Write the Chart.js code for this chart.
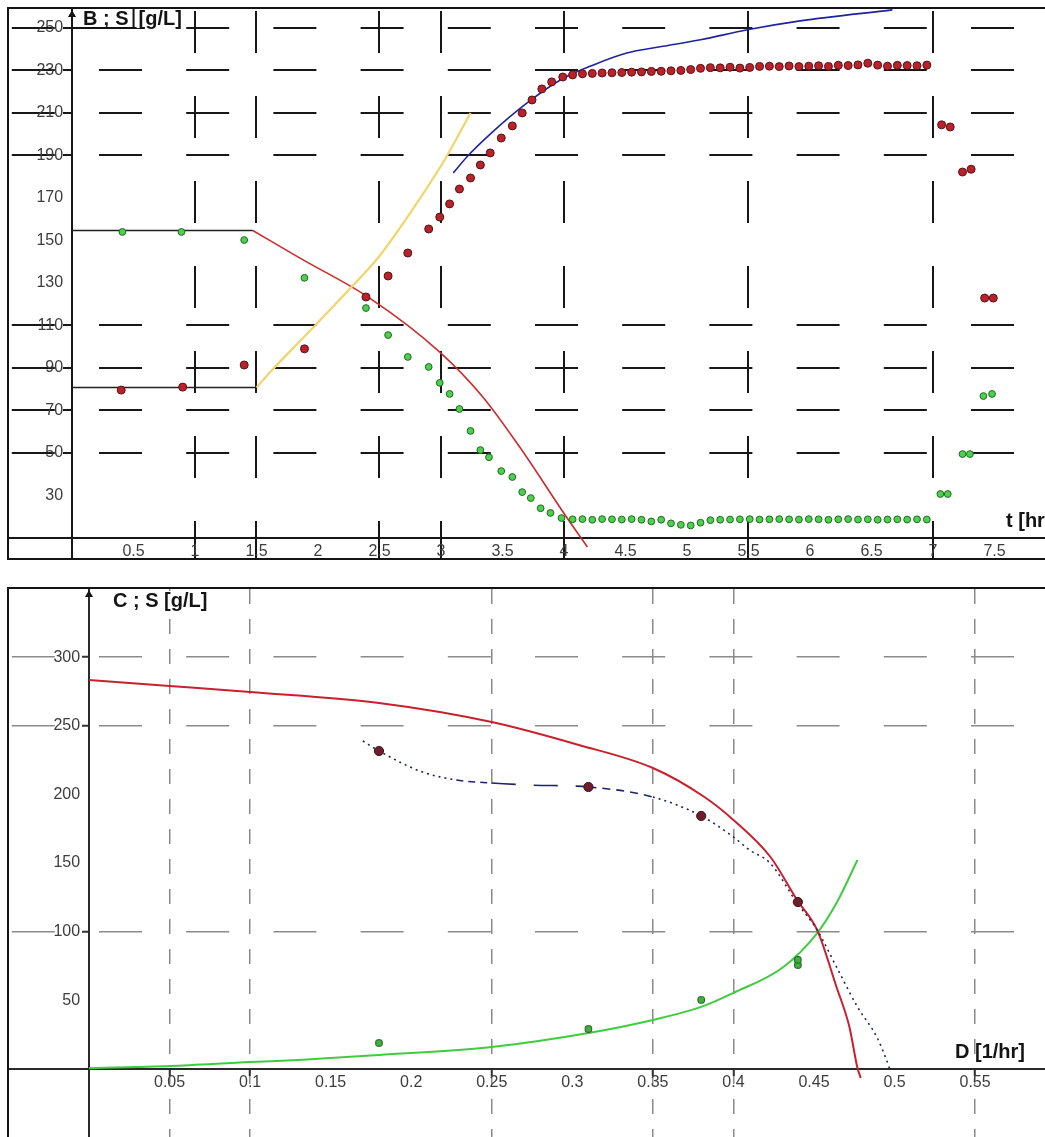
<!DOCTYPE html>
<html>
<head>
<meta charset="utf-8">
<title>Fed-batch run and chemostat steady states</title>
<script src="https://cdn.jsdelivr.net/npm/chart.js@4.4.0/dist/chart.umd.min.js"></script>
<style>
  html, body { margin: 0; padding: 0; background: #fff; width: 1045px; height: 1137px; overflow: hidden; }
  .frame { position: absolute; border: 2px solid #141414; }
  #runFrame { left: 7px; top: 7px; }
  #chemFrame { left: 7px; top: 587px; }
  canvas { display: block; }
</style>
</head>
<body>
<div class="frame" id="runFrame"><canvas id="run" width="1036" height="549"></canvas></div>
<div class="frame" id="chemFrame"><canvas id="chem" width="1036" height="550"></canvas></div>
<script>
// ---------- time course of the fed-batch run ----------
const runTimeTicks = [0.5, 1, 1.5, 2, 2.5, 3, 3.5, 4, 4.5, 5, 5.5, 6, 6.5, 7, 7.5];
const runTimeLabels = ['0.5', '1', '1.5', '2', '2.5', '3', '3.5', '4', '4.5', '5', '5.5', '6', '6.5', '7', '7.5'];
const runTimeGrid = [1, 1.5, 2.5, 3, 4, 5.5, 7];
const runConcTicks = [30, 50, 70, 90, 110, 130, 150, 170, 190, 210, 230, 250];
const runConcLabels = ['30', '50', '70', '90', '110', '130', '150', '170', '190', '210', '230', '250'];
const runConcGrid = [50, 70, 90, 110, 190, 210, 230, 250];

// measured B
const timeB = [0.40, 0.90, 1.40, 1.89, 2.39, 2.57, 2.73, 2.90, 2.99, 3.07, 3.15, 3.24, 3.32, 3.40, 3.49, 3.58, 3.66, 3.74, 3.82, 3.90, 3.99,
  4.07, 4.15, 4.23, 4.31, 4.39, 4.47, 4.55, 4.63, 4.71, 4.79, 4.87, 4.95, 5.03, 5.11, 5.19, 5.27, 5.35, 5.43, 5.51, 5.59,
  5.67, 5.75, 5.83, 5.91, 5.99, 6.07, 6.15, 6.23, 6.31, 6.39, 6.47, 6.55, 6.63, 6.71, 6.79, 6.87, 6.95,
  7.07, 7.14, 7.24, 7.31, 7.42, 7.49];
const concB = [79.6, 81.0, 91.4, 99.0, 123.4, 133.3, 144.1, 155.4, 161.0, 167.2, 174.2, 179.4, 185.5, 191.2, 198.2, 203.9, 210.0, 216.1, 221.3, 224.6, 226.9,
  227.9, 228.4, 228.6, 228.8, 228.9, 229.0, 229.2, 229.3, 229.5, 229.6, 229.8, 230.0, 230.4, 231.0, 231.3, 231.2, 231.5, 231.1, 231.4, 231.9,
  232.0, 231.8, 232.1, 231.8, 232.0, 232.2, 231.9, 232.4, 232.3, 232.6, 233.4, 232.5, 232.0, 232.4, 232.3, 232.2, 232.5,
  204.4, 203.4, 182.2, 183.5, 122.9, 122.9];

// measured S
const timeS = [0.41, 0.89, 1.40, 1.89, 2.39, 2.57, 2.73, 2.90, 2.99, 3.07, 3.15, 3.24, 3.32, 3.39, 3.49, 3.58, 3.66, 3.73, 3.81, 3.89, 3.98,
  4.07, 4.15, 4.23, 4.31, 4.39, 4.47, 4.55, 4.63, 4.71, 4.79, 4.87, 4.95, 5.03, 5.11, 5.19, 5.27, 5.35, 5.43, 5.51, 5.59,
  5.67, 5.75, 5.83, 5.91, 5.99, 6.07, 6.15, 6.23, 6.31, 6.39, 6.47, 6.55, 6.63, 6.71, 6.79, 6.87, 6.95,
  7.06, 7.12, 7.24, 7.30, 7.41, 7.48];
const concS = [154.0, 154.0, 150.2, 132.4, 118.2, 105.5, 95.2, 90.5, 83.0, 77.8, 70.7, 60.4, 51.4, 48.0, 41.5, 38.7, 31.6, 28.8, 24.0, 21.8, 19.4,
  18.8, 18.9, 18.6, 18.9, 18.8, 18.7, 18.9, 18.6, 17.8, 18.6, 16.9, 16.2, 15.9, 17.2, 18.4, 18.6, 18.7, 18.8, 18.9, 18.7,
  18.8, 18.9, 18.8, 18.7, 18.9, 18.8, 18.6, 18.8, 18.9, 18.7, 18.8, 18.6, 18.7, 18.8, 18.7, 18.8, 18.7,
  30.7, 30.7, 49.5, 49.5, 76.8, 77.8];

// initial levels before the feed starts
const feedTimeS = [0, 1.47];
const feedS = [154.7, 154.7];
const feedTimeB = [0, 1.50];
const feedB = [80.8, 80.8];

// model curves
const modelTimeS = [1.47, 1.85, 2.42, 2.99, 3.34, 3.64, 4.02, 4.19];
const modelS = [154.7, 141.8, 122.9, 97.5, 76.4, 52.8, 19.9, 5.8];
const growthTimeB = [1.50, 1.61, 1.96, 2.23, 2.49, 2.75, 3.03, 3.24];
const growthB = [80.8, 88.0, 109.0, 125.5, 142.0, 163.0, 188.0, 210.0];
const plateauTimeB = [3.10, 3.21, 3.42, 3.70, 3.97, 4.24, 4.51, 4.78, 5.11, 5.49, 5.92, 6.67];
const plateauB = [181.8, 189.3, 201.1, 214.7, 225.5, 232.6, 238.2, 241.1, 244.4, 249.1, 253.3, 258.5];

// ---------- chemostat steady states vs dilution rate ----------
const dilTicks = [0.05, 0.1, 0.15, 0.2, 0.25, 0.3, 0.35, 0.4, 0.45, 0.5, 0.55];
const dilLabels = ['0.05', '0.1', '0.15', '0.2', '0.25', '0.3', '0.35', '0.4', '0.45', '0.5', '0.55'];
const dilGrid = [0.05, 0.1, 0.25, 0.35, 0.4, 0.55];
const chemConcTicks = [50, 100, 150, 200, 250, 300];
const chemConcLabels = ['50', '100', '150', '200', '250', '300'];
const chemConcGrid = [100, 250, 300];

const steadyD = [0.18, 0.31, 0.38, 0.44];
const steadyC = [231.6, 205.4, 184.3, 121.6];
const steadyDS = [0.18, 0.31, 0.38, 0.44, 0.44];
const steadyS = [18.9, 29.1, 50.3, 75.7, 79.5];

const modelD_C = [0, 0.05, 0.10, 0.18, 0.25, 0.304, 0.35, 0.382, 0.40, 0.423, 0.4395, 0.452, 0.464, 0.472, 0.477, 0.479];
const modelC = [283.3, 279.0, 274.6, 266.6, 252.7, 236.0, 219.2, 198.1, 181.4, 154.4, 123.1, 101.2, 59.7, 30.6, 0.7, -6.6];
const modelD_S = [0, 0.03, 0.05, 0.10, 0.13, 0.18, 0.25, 0.31, 0.35, 0.38, 0.40, 0.431, 0.452, 0.464, 0.477];
const modelS_chem = [0.5, 1.5, 2.2, 5.1, 6.6, 10.2, 16.0, 26.2, 35.7, 45.2, 55.4, 74.3, 99.0, 120.9, 152.2];
const trendD = [0.17, 0.18, 0.207, 0.228, 0.25, 0.274, 0.31, 0.35, 0.38, 0.40, 0.41, 0.4227, 0.4395, 0.452, 0.464, 0.477, 0.489, 0.495, 0.497];
const trendC = [238.9, 231.6, 216.3, 210.5, 208.3, 206.8, 205.4, 198.1, 184.3, 169.0, 159.5, 150.0, 120.9, 101.2, 74.3, 45.2, 23.3, 6.6, 0];

// ---------- helpers ----------
const FONT = '"Liberation Sans", Arial, Helvetica, sans-serif';
Chart.defaults.font.family = FONT;
const pts = (xs, ys) => xs.map((x, i) => ({ x, y: ys[i] }));
const onList = (list, col) => c => (c.tick && list.includes(c.tick.value)) ? col : 'rgba(0,0,0,0)';
const fixedTicks = list => s => { s.ticks = list.map(v => ({ value: v })); };
// axes sit inside the plot, so they must not push the plot edges inwards
const noEdgePadding = s => { s.paddingLeft = 0; s.paddingRight = 0; s.paddingTop = 0; s.paddingBottom = 0; };
const GAP = '  ';

// axis arrow, axis titles
const axisDecor = {
  id: 'axisDecor',
  afterDraw(chart, args, o) {
    const { ctx, chartArea, scales: { x } } = chart;
    const ax = x.getPixelForValue(0);
    ctx.save();
    ctx.fillStyle = '#141414';
    ctx.beginPath();
    ctx.moveTo(ax, chartArea.top + 1);
    ctx.lineTo(ax - 4, chartArea.top + 8);
    ctx.lineTo(ax + 4, chartArea.top + 8);
    ctx.closePath();
    ctx.fill();

    ctx.font = 'bold 20px ' + FONT;
    ctx.textBaseline = 'middle';
    ctx.textAlign = 'left';
    const ty = chartArea.top + o.yTitleDy;
    let tx = ax + o.yTitleDx;
    o.yTitle.forEach((part, i) => {
      const w = ctx.measureText(part).width;
      ctx.fillStyle = '#fff';
      ctx.fillRect(tx - 2, ty - 10, w + 4, 19);
      ctx.fillStyle = '#141414';
      ctx.fillText(part, tx, ty);
      if (o.boxed && i === 0) {
        const bx = tx + w + 5;
        ctx.strokeStyle = '#141414';
        ctx.lineWidth = 2;
        ctx.beginPath();
        ctx.moveTo(ax, chartArea.top + 19);
        ctx.lineTo(bx, chartArea.top + 19);
        ctx.lineTo(bx, chartArea.top);
        ctx.stroke();
        tx = bx + 5;
      } else {
        tx += w + 6;
      }
    });
    ctx.fillText(o.xTitle, o.xTitleX, o.xTitleY);
    ctx.restore();
  }
};

const tickFont = { size: 16 };
const tickColor = '#3d3d3d';

// ---------- fed-batch time course ----------
new Chart(document.getElementById('run'), {
  type: 'scatter',
  data: {
    datasets: [
      { label: 'B', data: pts(timeB, concB), pointRadius: 4, pointBackgroundColor: '#b8232b', pointBorderColor: '#5c1014', pointBorderWidth: 1 },
      { label: 'S', data: pts(timeS, concS), pointRadius: 3.4, pointBackgroundColor: '#4fcf4f', pointBorderColor: '#1f6a1f', pointBorderWidth: 1 },
      { label: 'B model, plateau', data: pts(plateauTimeB, plateauB), showLine: true, pointRadius: 0, borderColor: '#1f239a', borderWidth: 1.6, cubicInterpolationMode: 'monotone' },
      { label: 'B model, growth', data: pts(growthTimeB, growthB), showLine: true, pointRadius: 0, borderColor: '#f1d46a', borderWidth: 2.2, cubicInterpolationMode: 'monotone' },
      { label: 'S model', data: pts(modelTimeS, modelS), showLine: true, pointRadius: 0, borderColor: '#cf2a2a', borderWidth: 1.6, cubicInterpolationMode: 'monotone' },
      { label: 'S initial', data: pts(feedTimeS, feedS), showLine: true, pointRadius: 0, borderColor: '#222', borderWidth: 1.6 },
      { label: 'B initial', data: pts(feedTimeB, feedB), showLine: true, pointRadius: 0, borderColor: '#222', borderWidth: 1.6 }
    ]
  },
  options: {
    responsive: false, animation: false, devicePixelRatio: 1,
    layout: { padding: 0, autoPadding: false },
    plugins: {
      legend: { display: false }, tooltip: { enabled: false },
      axisDecor: { yTitle: ['B ; S', '[g/L]'], yTitleDx: 11, yTitleDy: 10, boxed: true, xTitle: 't [hr]', xTitleX: 997, xTitleY: 512 }
    },
    scales: {
      x: {
        type: 'linear', min: -0.5122, max: 7.9106, position: { y: 10 },
        afterBuildTicks: fixedTicks(runTimeTicks),
        afterFit: noEdgePadding,
        grid: { color: onList(runTimeGrid, '#171717'), lineWidth: 2, drawTicks: false },
        border: { display: true, color: '#171717', width: 2, dash: [42, 43], dashOffset: -2 },
        ticks: { autoSkip: false, maxRotation: 0, padding: 4, color: tickColor, font: tickFont, callback: (v, i) => runTimeLabels[i] }
      },
      y: {
        type: 'linear', min: 0.6, max: 258.9, position: { x: 0 },
        afterBuildTicks: fixedTicks(runConcTicks),
        afterFit: noEdgePadding,
        grid: { color: onList(runConcGrid, '#171717'), lineWidth: 2, drawTicks: true, tickLength: 8, tickWidth: 2, tickColor: onList(runConcGrid, '#171717') },
        border: { display: true, color: '#171717', width: 2, dash: [43, 44.2], dashOffset: -2.8 },
        ticks: { autoSkip: false, padding: 4, color: tickColor, font: tickFont, callback: (v, i) => runConcLabels[i] + GAP }
      }
    }
  },
  plugins: [axisDecor]
});

// ---------- chemostat: C and S against dilution rate ----------
const trendDash = c => {
  const d = c.p0.parsed.x;
  if (d < 0.21) return [2, 4];
  if (d < 0.24) return [7, 5];
  if (d < 0.31) return [24, 18];
  if (d < 0.35) return [8, 6];
  return [2, 4];
};

new Chart(document.getElementById('chem'), {
  type: 'scatter',
  data: {
    datasets: [
      { label: 'C', data: pts(steadyD, steadyC), pointRadius: 4.6, pointBackgroundColor: '#6e1f2e', pointBorderColor: '#3e0e18', pointBorderWidth: 1 },
      { label: 'S', data: pts(steadyDS, steadyS), pointStyle: 'rectRounded', pointRadius: 3.8, pointBackgroundColor: '#3faf3f', pointBorderColor: '#1f5a1f', pointBorderWidth: 1 },
      { label: 'C trend', data: pts(trendD, trendC), showLine: true, pointRadius: 0, borderColor: '#1c2466', borderWidth: 1.6, cubicInterpolationMode: 'monotone', segment: { borderDash: trendDash } },
      { label: 'C model', data: pts(modelD_C, modelC), showLine: true, pointRadius: 0, borderColor: '#c8202c', borderWidth: 2, cubicInterpolationMode: 'monotone' },
      { label: 'S model', data: pts(modelD_S, modelS_chem), showLine: true, pointRadius: 0, borderColor: '#3fcc3f', borderWidth: 2, cubicInterpolationMode: 'monotone' }
    ]
  },
  options: {
    responsive: false, animation: false, devicePixelRatio: 1,
    layout: { padding: 0, autoPadding: false },
    plugins: {
      legend: { display: false }, tooltip: { enabled: false },
      axisDecor: { yTitle: ['C ; S [g/L]'], yTitleDx: 24, yTitleDy: 12, boxed: false, xTitle: 'D [1/hr]', xTitleX: 946, xTitleY: 463 }
    },
    scales: {
      x: {
        type: 'linear', min: -0.04966, max: 0.5934, position: { y: 0 },
        afterBuildTicks: fixedTicks(dilTicks),
        afterFit: noEdgePadding,
        grid: { color: onList(dilGrid, '#8a8a8a'), lineWidth: 1.5, drawTicks: true, tickLength: 6, tickWidth: 2, tickColor: onList(dilGrid, '#333') },
        border: { display: true, color: '#2a2a2a', width: 2, dash: [15, 15], dashOffset: 0 },
        ticks: { autoSkip: false, maxRotation: 0, padding: -2, color: tickColor, font: tickFont, callback: (v, i) => dilLabels[i] }
      },
      y: {
        type: 'linear', min: -51.0, max: 349.6, position: { x: 0 },
        afterBuildTicks: fixedTicks(chemConcTicks),
        afterFit: noEdgePadding,
        grid: { color: onList(chemConcGrid, '#8a8a8a'), lineWidth: 1.5, drawTicks: true, tickLength: 6, tickWidth: 2, tickColor: onList(chemConcGrid, '#333') },
        border: { display: true, color: '#2a2a2a', width: 2, dash: [43, 44.2], dashOffset: -2.8 },
        ticks: { autoSkip: false, padding: 4, color: tickColor, font: tickFont, callback: (v, i) => chemConcLabels[i] + GAP }
      }
    }
  },
  plugins: [axisDecor]
});
</script>
</body>
</html>
